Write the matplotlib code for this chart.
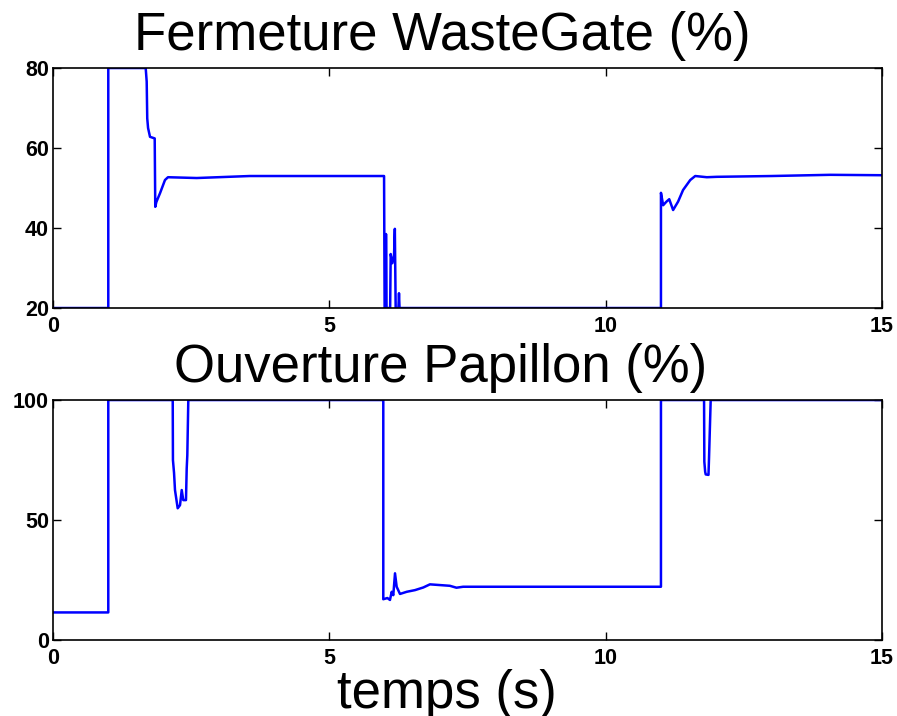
"""Fermeture WasteGate / Ouverture Papillon, MATLAB-style two-panel plot."""

import matplotlib

matplotlib.use("Agg")
import matplotlib.pyplot as plt

# top panel: waste gate closing (%)
t_wg = [0, 1.0, 1.0, 1.677, 1.695, 1.705, 1.72, 1.755, 1.84, 1.85, 1.87, 1.936,
        2.026, 2.08, 2.6, 3.56, 4.5, 5.99, 6.0, 6.02, 6.025, 6.035, 6.10, 6.11,
        6.14, 6.17, 6.185, 6.20, 6.25, 6.26, 6.27, 11.0, 11.0, 11.04, 11.10,
        11.15, 11.22, 11.31, 11.40, 11.53, 11.62, 11.83, 12.01, 13.0, 14.06, 15.0]
wastegate = [20, 20, 80, 80, 76.6, 67.4, 65, 62.8, 62.4, 45.3, 46.5, 48.7,
             52, 52.7, 52.5, 53.0, 53.0, 53.0, 20, 20, 38.5, 20, 20, 33.5,
             31.2, 33, 39.8, 20, 20, 23.7, 20, 20, 48.8, 45.7, 46.6,
             47.2, 44.5, 46.6, 49.5, 52, 53, 52.7, 52.8, 53.0, 53.3, 53.2]

# bottom panel: throttle opening (%)
t_pap = [0, 1.0, 1.0, 2.166, 2.17, 2.19, 2.207, 2.256, 2.298, 2.329, 2.357,
         2.406, 2.419, 2.43, 2.448, 5.976, 5.976, 6.05, 6.097, 6.128, 6.157,
         6.188, 6.218, 6.278, 6.40, 6.55, 6.70, 6.82, 7.18, 7.30, 7.42, 8.27,
         11.0, 11.0, 11.78, 11.785, 11.80, 11.81, 11.86, 11.87, 11.90, 15.0]
papillon = [11.5, 11.5, 100, 100, 75, 69.6, 62.5, 54.9, 56.2, 62.5, 58.3,
            58.3, 71.5, 77, 100, 100, 17, 17.5, 16.7, 20.1, 18.7,
            27.8, 22.2, 19.2, 20.1, 20.8, 21.9, 23.2, 22.6, 21.8, 22.2, 22.2,
            22.2, 100, 100, 74.3, 70.1, 69, 68.8, 76, 100, 100]

xticks = [0, 5, 10, 15]

plt.rcParams["font.family"] = ["Liberation Sans", "DejaVu Sans"]

fig = plt.figure(figsize=(8.97, 7.16), dpi=100)
ax1 = fig.add_axes([0.0591, 0.5698, 0.9242, 0.3352])
ax2 = fig.add_axes([0.0591, 0.1061, 0.9242, 0.3352])

panels = [
    (ax1, t_wg, wastegate, (20, 80), [20, 40, 60, 80], "Fermeture WasteGate (%)", 0.470),
    (ax2, t_pap, papillon, (0, 100), [0, 50, 100], "Ouverture Papillon (%)", 0.468),
]
for ax, t, v, ylim, yticks, title, tx in panels:
    ax.plot(t, v, color="#0000ff", linewidth=1.8)
    ax.set_xlim(0, 15)
    ax.set_ylim(*ylim)
    ax.set_xticks(xticks)
    ax.set_yticks(yticks)
    ax.tick_params(direction="in", top=True, right=True, length=6, width=1,
                   labelsize=15.5)
    ax.tick_params(axis="x", pad=6)
    ax.tick_params(axis="y", pad=3)
    for lbl in ax.get_xticklabels() + ax.get_yticklabels():
        lbl.set_fontweight("bold")
    for s in ax.spines.values():
        s.set_linewidth(1.2)
    ax.set_title(title, fontsize=38, pad=13, x=tx)

ax2.set_xlabel("temps (s)", fontsize=38, labelpad=0, x=0.475)

fig.savefig("out.png", dpi=100)
plt.close(fig)
